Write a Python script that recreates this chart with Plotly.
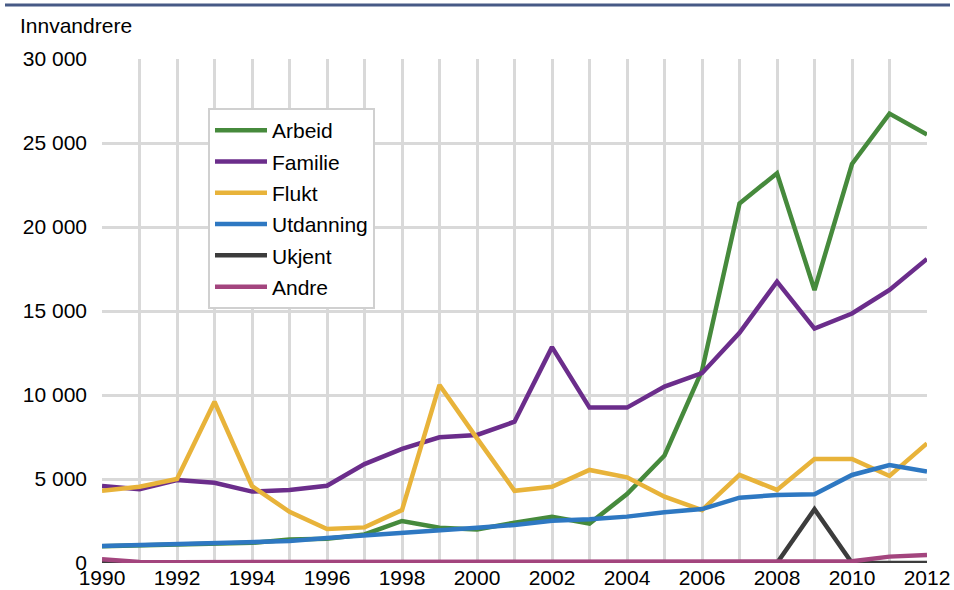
import plotly.graph_objects as go

years = list(range(1990, 2013))
arbeid = [1000, 1050, 1100, 1150, 1200, 1400, 1450, 1700, 2500, 2100, 2000, 2400, 2750, 2350, 4100, 6400, 11450, 21400, 23200, 16250, 23750, 26750, 25500]
familie = [4580, 4390, 4940, 4780, 4250, 4340, 4600, 5890, 6790, 7480, 7620, 8410, 12850, 9250, 9250, 10500, 11300, 13700, 16750, 13950, 14850, 16250, 18100]
flukt = [4300, 4540, 5000, 9600, 4580, 3050, 2020, 2120, 3150, 10600, 7420, 4300, 4540, 5540, 5100, 3950, 3150, 5240, 4350, 6190, 6190, 5180, 7120]
utdanning = [1010, 1070, 1150, 1170, 1230, 1310, 1490, 1630, 1830, 1960, 2100, 2260, 2520, 2600, 2760, 3020, 3210, 3890, 4050, 4090, 5240, 5830, 5440]
ukjent = [0, 0, 0, 0, 0, 0, 0, 0, 0, 0, 0, 0, 0, 0, 0, 0, 0, 0, 0, 3200, 0, 0, 0]
andre = [220, 60, 50, 50, 50, 50, 50, 50, 50, 50, 50, 50, 50, 50, 50, 50, 50, 50, 80, 80, 100, 380, 480]

series = [
    ("Arbeid", arbeid, "#468a3c"),
    ("Familie", familie, "#6b2d8b"),
    ("Flukt", flukt, "#e8b33a"),
    ("Utdanning", utdanning, "#2e78c2"),
    ("Ukjent", ukjent, "#3c3c3c"),
    ("Andre", andre, "#a3457e"),
]

y_ticks = [0, 5000, 10000, 15000, 20000, 25000, 30000]

fig = go.Figure()
for name, vals, col in series:
    fig.add_trace(go.Scatter(
        x=years, y=vals, name=name, mode="lines",
        line=dict(color=col, width=4.5),
        legendgroup=name,
    ))

font = "Liberation Sans, Arial, sans-serif"
FS = 21
W, H = 825, 504
fig.update_layout(
    template="none",
    width=954, height=590,
    margin=dict(l=102, r=27, t=59, b=27, autoexpand=False),
    paper_bgcolor="white", plot_bgcolor="white",
    separators=", ",
    font=dict(family=font, size=FS, color="#000000"),
    showlegend=True,
    legend=dict(
        x=(208 - 102) / W, y=(563 - 108) / H, xanchor="left", yanchor="top",
        bgcolor="white", bordercolor="#d0d0d0", borderwidth=2,
        font=dict(family=font, size=FS, color="#000000"),
        tracegroupgap=1,
        itemwidth=52,
    ),
    xaxis=dict(
        range=[1990, 2012],
        tickvals=years,
        ticktext=[str(y) if y % 2 == 0 else "" for y in years],
        showgrid=True, gridcolor="#d9d9d9", gridwidth=2.5,
        zeroline=False, showline=False, ticks="",
        tickfont=dict(size=FS), ticklabelstandoff=0,
        automargin=False,
    ),
    yaxis=dict(
        range=[0, 30000],
        tickvals=y_ticks,
        tickformat=",d",
        showgrid=True, gridcolor="#d9d9d9", gridwidth=2.5,
        zeroline=False, showline=False, ticks="",
        tickfont=dict(size=FS), ticklabelstandoff=14,
        automargin=False,
    ),
    shapes=[dict(type="line", xref="paper", yref="paper",
                 x0=(5 - 102) / W, x1=(950 - 102) / W, y0=(563 - 5) / H, y1=(563 - 5) / H,
                 line=dict(color="#475a86", width=3))],
    annotations=[dict(text="Innvandrere", xref="paper", yref="paper",
                      x=(18 - 102) / W, y=(563 - 25) / H, xanchor="left", yanchor="middle",
                      showarrow=False, font=dict(size=FS))],
)

fig.write_html("out.html", config={"displayModeBar": False},
               post_script="document.body.style.margin='0';document.body.style.padding='0';")
